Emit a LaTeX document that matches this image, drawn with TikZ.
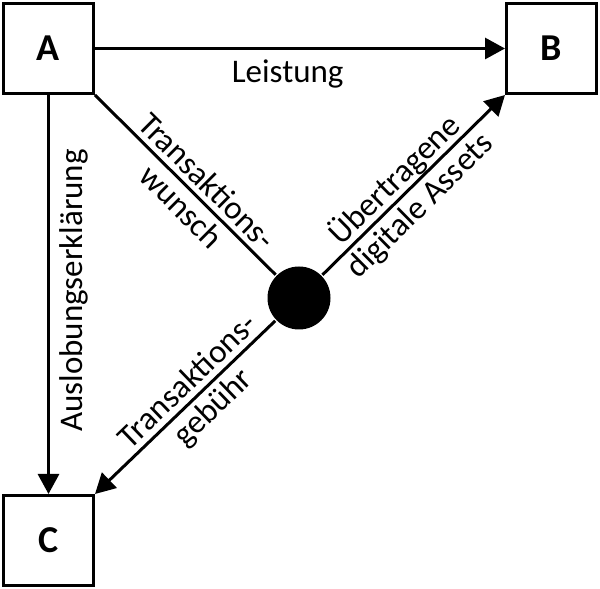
\documentclass[tikz,border=0pt]{standalone}
\usepackage{fontspec}
\setmainfont{Carlito}
\usetikzlibrary{arrows.meta}
\begin{document}
\begin{tikzpicture}[x=1pt,y=1pt,line width=3pt,
    caixa/.style={draw, minimum size=90pt, inner sep=0pt, font=\bfseries\fontsize{38}{40}\selectfont},
    seta/.style={-{Triangle[length=20pt,width=21pt]}},
    rotulo/.style={font=\fontsize{33}{34}\selectfont, inner sep=0pt},
    cima/.style={rotulo, sloped, above=5.5pt, text depth=0pt},
    baixo/.style={rotulo, sloped, below=4.5pt, text height=23pt}]
    \useasboundingbox (0,0) rectangle (600,589); %Tamanho da figura
        %Caixas
    \node[caixa] (A) at (48.5,540.5) {A};
    \node[caixa] (B) at (551.5,540.5) {B};
    \node[caixa] (C) at (48.5,48.5) {C};
    \node[circle, fill, minimum size=63pt, inner sep=0pt] (M) at (299,291) {}; %Ponto central
        %Setas
    \draw[seta] (A) -- (B) node[pos=0.47, anchor=base, yshift=-34pt, rotulo]{Leistung};
    \draw[seta] (A) -- (C) node[midway, xshift=34.5pt, yshift=4pt, rotate=90, anchor=base, rotulo]{Auslobungserklärung};
    \draw (A.south east) -- (M) node[pos=0.55, cima]{Transaktions-} node[pos=0.55, baixo]{wunsch};
    \draw[seta] (M) -- (B.south west) node[pos=0.46, cima]{Übertragene} node[pos=0.46, baixo]{digitale Assets};
    \draw[seta] (M) -- (C.north east) node[pos=0.42, cima]{Transaktions-} node[pos=0.42, baixo]{gebühr};
\end{tikzpicture}
\end{document}
